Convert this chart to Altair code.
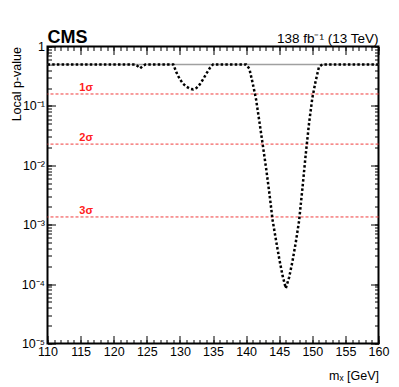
import altair as alt
import pandas as pd

# ---- data ----
mass = [110.0, 123.2, 123.6, 124.0, 124.4, 124.8, 129.0, 129.5, 130.0, 130.5,
        131.0, 131.5, 132.0, 132.5, 133.0, 133.5, 134.0, 134.5, 135.0, 140.0,
        140.5, 141.0, 141.5, 142.0, 142.5, 143.0, 143.5, 144.0, 144.5, 145.0,
        145.5, 146.0, 146.5, 147.0, 147.5, 148.0, 148.5, 149.0, 149.5, 150.0,
        150.5, 151.0, 151.5, 160.0]
pval = [0.5, 0.5, 0.47, 0.43, 0.47, 0.5, 0.5, 0.36, 0.28, 0.235,
        0.21, 0.195, 0.19, 0.2, 0.23, 0.28, 0.35, 0.43, 0.5, 0.5,
        0.42, 0.24, 0.13, 0.055, 0.0227, 0.0093, 0.0035, 0.0012, 0.00056, 0.00027,
        0.00014, 0.000085, 0.00013, 0.00024, 0.0005, 0.00115, 0.004, 0.015, 0.05, 0.135,
        0.26, 0.45, 0.5, 0.5]
ref_p = 0.5
sigma_names = ["1σ", "2σ", "3σ"]
sigma_p = [0.1587, 0.02275, 0.00135]
sigma_label_mass = 114.8
x_major = [110, 115, 120, 125, 130, 135, 140, 145, 150, 155, 160]
x_minor = list(range(110, 161))
y_major = [1e-5, 1e-4, 1e-3, 1e-2, 1e-1, 1]
y_minor = [k * 10.0 ** e for e in range(-5, 0) for k in range(1, 10)] + [1]
cms_text = "CMS"
lumi_text = "138 fb⁻¹ (13 TeV)"
x_title = "mₓ [GeV]"
y_title = "Local p-value"

df = pd.DataFrame({"mass": mass, "p": pval})
sig_df = pd.DataFrame({"name": sigma_names, "p": sigma_p})

W, H = 331, 297
FONT = "Liberation Sans"
MAJ, MIN = 8, 4

xscale = alt.Scale(domain=[110, 160], nice=False, zero=False)
yscale = alt.Scale(type="log", domain=[1e-5, 1], nice=False)

ylab_expr = ("datum.value >= 1 ? '1' : datum.value >= 0.1 ? '10⁻¹' : datum.value >= 0.01 ? '10⁻²' : "
             "datum.value >= 0.001 ? '10⁻³' : datum.value >= 0.0001 ? '10⁻⁴' : '10⁻⁵'")


def ax(orient, values, size, labels=False, title=None, **extra):
    kw = dict(orient=orient, values=values, tickSize=size, offset=-size, domain=False,
              grid=False, ticks=True, tickColor="black", tickWidth=1, labels=labels,
              labelFont=FONT, labelFontSize=12.5, labelColor="black")
    if title is not None:
        kw.update(title=title, titleFont=FONT, titleFontSize=12.5, titleFontWeight="normal",
                  titleColor="black", titleAnchor="end")
    else:
        kw.update(title=None)
    kw.update(extra)
    return alt.Axis(**kw)


base = alt.Chart(df)

curve = base.mark_line(color="black", strokeWidth=2.5, strokeDash=[2.5, 2.2], strokeCap="butt").encode(
    x=alt.X("mass:Q", scale=xscale,
            axis=ax("bottom", x_major, MAJ, labels=True, title=x_title, labelPadding=2,
                    titlePadding=11, labelFlush=False)),
    y=alt.Y("p:Q", scale=yscale,
            axis=ax("left", y_major, MAJ, labels=True, title=y_title, labelPadding=3,
                    labelExpr=ylab_expr, titlePadding=-2, labelFlush=False)),
)

minor_bl = base.mark_point(opacity=0).encode(
    x=alt.X("mass:Q", scale=xscale, axis=ax("bottom", x_minor, MIN)),
    y=alt.Y("p:Q", scale=yscale, axis=ax("left", y_minor, MIN)),
)
major_tr = base.mark_point(opacity=0).encode(
    x=alt.X("mass:Q", scale=xscale, axis=ax("top", x_major, MAJ)),
    y=alt.Y("p:Q", scale=yscale, axis=ax("right", y_major, MAJ)),
)
minor_tr = base.mark_point(opacity=0).encode(
    x=alt.X("mass:Q", scale=xscale, axis=ax("top", x_minor, MIN)),
    y=alt.Y("p:Q", scale=yscale, axis=ax("right", y_minor, MIN)),
)

ref_line = alt.Chart(pd.DataFrame({"p": [ref_p]})).mark_rule(color="#a0a0a0", strokeWidth=1.5).encode(
    y=alt.Y("p:Q", scale=yscale, axis=None)
)

sig_lines = alt.Chart(sig_df).mark_rule(color="#f03c3c", strokeWidth=1, strokeDash=[3, 2]).encode(
    y=alt.Y("p:Q", scale=yscale, axis=None)
)
sig_text = alt.Chart(sig_df).mark_text(color="#ff2020", font=FONT, fontSize=11, fontWeight="bold",
                                       align="left", baseline="alphabetic", dy=-3).encode(
    x=alt.XDatum(sigma_label_mass, scale=xscale, axis=None),
    y=alt.Y("p:Q", scale=yscale, axis=None),
    text="name:N",
)

cms = alt.Chart(pd.DataFrame({"t": [cms_text]})).mark_text(
    font=FONT, fontSize=18, fontWeight="bold", align="left", baseline="alphabetic", color="black"
).encode(x=alt.value(0), y=alt.value(-4), text="t:N")

lumi = alt.Chart(pd.DataFrame({"t": [lumi_text]})).mark_text(
    font=FONT, fontSize=13.5, align="right", baseline="alphabetic", color="black"
).encode(x=alt.value(W), y=alt.value(-4), text="t:N")

chart = alt.layer(
    ref_line, sig_lines, sig_text, curve, minor_bl, major_tr, minor_tr, cms, lumi
).resolve_axis(x="independent", y="independent").properties(
    width=W, height=H,
    autosize=alt.AutoSizeParams(type="none"),
    padding={"left": 39.5, "top": 38.5, "right": 12, "bottom": 40},
    background="white",
).configure_view(stroke="black", strokeWidth=2)

chart.save("out.html", embed_options={"renderer": "svg", "actions": False})
